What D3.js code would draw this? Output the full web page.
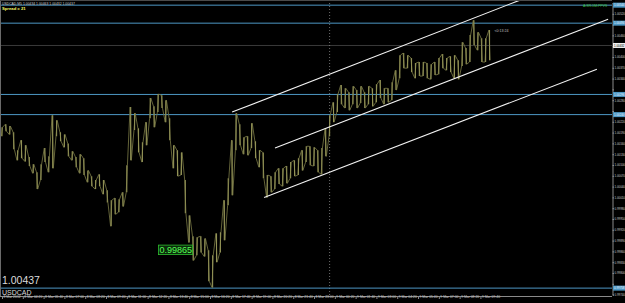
<!DOCTYPE html>
<html><head><meta charset="utf-8">
<script src="https://cdn.jsdelivr.net/npm/d3@7"></script>
<style>html,body{margin:0;padding:0;background:#000;overflow:hidden}svg{display:block}</style>
</head><body><svg id="c" width="625" height="303"></svg>
<script>
// ---- data (USDCAD; one sample every 15 minutes from 8 Mar 03:00) ----
const barStepMin = 15;
const highs = [1.00205,1.00213,1.00208,1.00191,1.00141,1.00169,1.00155,1.00122,1.00102,1.00080,
1.00102,1.00147,1.00124,1.00238,1.00224,1.00191,1.00185,1.00160,1.00138,1.00122,
1.00130,1.00119,1.00085,1.00069,1.00058,1.00074,1.00058,1.00030,1.00002,1.00008,
1.00005,1.00024,1.00099,1.00261,1.00244,1.00202,1.00163,1.00219,1.00286,1.00263,
1.00297,1.00294,1.00280,1.00230,1.00155,1.00141,1.00135,1.00058,0.99960,0.99902,
0.99899,0.99902,0.99896,0.99863,0.99849,0.99910,0.99913,1.00002,1.00063,1.00169,
1.00244,1.00213,1.00177,1.00180,1.00216,1.00166,1.00141,1.00135,1.00072,1.00069,
1.00080,1.00091,1.00091,1.00097,1.00108,1.00113,1.00119,1.00141,1.00152,1.00152,
1.00149,1.00141,1.00147,1.00202,1.00238,1.00274,1.00297,1.00322,1.00313,1.00302,
1.00319,1.00308,1.00319,1.00302,1.00319,1.00313,1.00324,1.00336,1.00313,1.00313,
1.00330,1.00363,1.00405,1.00411,1.00405,1.00397,1.00383,1.00386,1.00386,1.00383,
1.00380,1.00386,1.00397,1.00408,1.00397,1.00402,1.00405,1.00391,1.00441,1.00425,
1.00461,1.00502,1.00469,1.00452,1.00452,1.00475];
const lows = [1.00180,1.00194,1.00185,1.00144,1.00113,1.00119,1.00110,1.00097,1.00077,1.00033,
1.00058,1.00108,1.00080,1.00091,1.00180,1.00166,1.00149,1.00124,1.00113,1.00094,
1.00077,1.00072,1.00052,1.00041,1.00033,1.00041,1.00019,0.99996,0.99930,0.99963,
0.99969,0.99985,1.00024,1.00113,1.00197,1.00135,1.00108,1.00155,1.00230,1.00205,
1.00247,1.00258,1.00219,1.00169,1.00091,1.00069,1.00072,0.99966,0.99885,0.99835,
0.99849,0.99857,0.99846,0.99777,0.99760,0.99830,0.99857,0.99891,0.99988,1.00016,
1.00141,1.00155,1.00130,1.00127,1.00147,1.00119,1.00094,1.00063,1.00010,1.00024,
1.00033,1.00047,1.00041,1.00049,1.00063,1.00069,1.00072,1.00085,1.00108,1.00099,
1.00097,1.00080,1.00074,1.00124,1.00180,1.00219,1.00247,1.00269,1.00258,1.00252,
1.00269,1.00258,1.00272,1.00258,1.00269,1.00263,1.00274,1.00286,1.00269,1.00274,
1.00280,1.00308,1.00341,1.00369,1.00369,1.00358,1.00341,1.00347,1.00347,1.00341,
1.00338,1.00350,1.00352,1.00369,1.00363,1.00358,1.00341,1.00338,1.00375,1.00380,
1.00386,1.00433,1.00419,1.00386,1.00386,1.00391];
const timeLabels = ["8 Mar 2012","8 Mar 04:20","8 Mar 05:40","8 Mar 07:00","8 Mar 08:20","8 Mar 09:40",
"8 Mar 11:00","8 Mar 12:20","8 Mar 13:40","8 Mar 15:00","8 Mar 16:20","8 Mar 17:40","8 Mar 19:00",
"8 Mar 20:20","8 Mar 21:40","8 Mar 23:00","9 Mar 00:20","9 Mar 01:40","9 Mar 03:00","9 Mar 04:20",
"9 Mar 05:40","9 Mar 07:00","9 Mar 08:20","9 Mar 09:40"];
const labelStepMin = 80;
const priceTicks = [1.00550,1.00520,1.00490,1.00460,1.00430,1.00400,1.00370,1.00340,1.00310,1.00280,
1.00250,1.00220,1.00190,1.00160,1.00130,1.00100,1.00070,1.00040,1.00010,0.99980,0.99950,0.99920,
0.99890,0.99860,0.99830,0.99800,0.99770,0.99740];
const levelPrices = [1.00544,1.00494,1.00296,1.00240,0.99758];
const bidPrice = 1.00432;
const separatorMin = 1260;
const trendStartMin = [885,1050,1008];
const trendStartPrice = [1.00247,1.00147,1.00010];
const trendEndMin = [1992,2331,2288];
const trendEndPrice = [1.00558,1.00505,1.00366];
const lowMarkPrice = 0.99865;
const lastPriceText = "1.00437";
const titleText = "USDCAD,M5  1.00434 1.00463 1.00432 1.00437";

// ---- drawing ----
const W = 625, H = 303, plotR = 612, plotB = 296;
const svg = d3.select("#c");
const FONT = "Liberation Sans, Arial, sans-serif";
const AX = 2.9;
svg.append("rect").attr("width",W).attr("height",H).attr("fill","#000");

const x = d3.scaleLinear().domain([0, 2346]).range([2, plotR]);
const y = d3.scaleLinear().domain([0.9974, 1.0055]).range([294.6, 3]);

svg.append("defs").append("clipPath").attr("id","pc")
  .append("rect").attr("x",0).attr("y",0).attr("width",plotR).attr("height",plotB);
const g = svg.append("g").attr("clip-path","url(#pc)");

const blue = "#4d97c4";
const olive = "#929256";

// bid line
g.append("line").attr("x1",0).attr("x2",plotR).attr("y1",y(bidPrice)).attr("y2",y(bidPrice))
  .attr("stroke","#3a3a3a").attr("stroke-width",1);

// period separator
g.append("line").attr("x1",x(separatorMin)).attr("x2",x(separatorMin)).attr("y1",0).attr("y2",plotB)
  .attr("stroke","#8a8a8a").attr("stroke-width",0.8).attr("stroke-dasharray","1,2");

// horizontal levels
g.selectAll("line.lvl").data(levelPrices).join("line").attr("class","lvl")
  .attr("x1",0).attr("x2",plotR).attr("y1",d=>y(d)).attr("y2",d=>y(d))
  .attr("stroke",blue).attr("stroke-width",1);

// bars: vertical high-low strokes joined by a thin zigzag through the bar ranges
const bars = highs.map((h,i)=>({t:i*barStepMin,h,l:lows[i]}));
const zig = [];
bars.forEach((d,i)=>{
  const up = i%2===0;
  zig.push([x(d.t)-0.6, y(up?d.l:d.h)]);
  zig.push([x(d.t)+0.6, y(up?d.h:d.l)]);
});
g.append("path").attr("d", d3.line()(zig)).attr("fill","none")
  .attr("stroke","#6e6e40").attr("stroke-width",0.9);
g.selectAll("line.bar").data(bars).join("line").attr("class","bar")
  .attr("x1",d=>x(d.t)).attr("x2",d=>x(d.t)).attr("y1",d=>y(d.h)).attr("y2",d=>y(d.l))
  .attr("stroke",olive).attr("stroke-width",1.1);

// trend channel
g.selectAll("line.tr").data(trendStartMin).join("line").attr("class","tr")
  .attr("x1",(d,i)=>x(trendStartMin[i])).attr("y1",(d,i)=>y(trendStartPrice[i]))
  .attr("x2",(d,i)=>x(trendEndMin[i])).attr("y2",(d,i)=>y(trendEndPrice[i]))
  .attr("stroke","#f2f2f2").attr("stroke-width",1.1);

// frame
svg.append("line").attr("x1",0).attr("x2",plotR).attr("y1",plotB+0.5).attr("y2",plotB+0.5).attr("stroke","#8a8a8a");
svg.append("line").attr("x1",0.5).attr("x2",0.5).attr("y1",0).attr("y2",plotB).attr("stroke","#6a6a6a");
svg.append("line").attr("x1",0).attr("x2",plotR).attr("y1",0.5).attr("y2",0.5).attr("stroke","#4a4a4a");

// right axis
const tagPrices = levelPrices.concat([bidPrice]);
const ya = svg.append("g").attr("transform",`translate(${plotR+0.5},0)`)
  .call(d3.axisRight(y).tickValues(priceTicks).tickFormat(d3.format(".5f")).tickSize(1.5).tickPadding(0.5));
ya.select(".domain").attr("stroke","#8a8a8a");
ya.selectAll(".tick line").attr("stroke","#8a8a8a");
ya.selectAll("text").attr("fill","#c8c8c8").attr("font-size",AX).attr("font-family",FONT)
  .style("display",d=>tagPrices.some(p=>Math.abs(y(p)-y(d))<5.5) ? "none" : null);

// level price tags on axis
const tags = svg.append("g");
levelPrices.forEach(p=>{
  tags.append("rect").attr("x",plotR+1).attr("y",y(p)-2.5).attr("width",W-plotR-1).attr("height",5).attr("fill",blue);
  tags.append("text").attr("x",plotR+2).attr("y",y(p)+1.1).text(d3.format(".5f")(p))
    .attr("fill","#e8f4ff").attr("font-size",AX).attr("font-family",FONT);
});
tags.append("rect").attr("x",plotR+1).attr("y",y(bidPrice)-2.5).attr("width",W-plotR-1).attr("height",5).attr("fill","#f0f0f0");
tags.append("text").attr("x",plotR+2).attr("y",y(bidPrice)+1.1).text(d3.format(".5f")(bidPrice))
  .attr("fill","#000").attr("font-size",AX).attr("font-family",FONT);

// bottom axis
const labelMins = timeLabels.map((d,i)=>i*labelStepMin);
const xa = svg.append("g").attr("transform",`translate(0,${plotB+0.5})`)
  .call(d3.axisBottom(x).tickValues(labelMins).tickFormat((d,i)=>timeLabels[i]).tickSize(2.5).tickPadding(0));
xa.select(".domain").remove();
xa.selectAll(".tick line").attr("stroke","#8a8a8a");
xa.selectAll("text").attr("fill","#c8c8c8").attr("font-size",3.4).attr("font-family",FONT)
  .attr("text-anchor","start").attr("dx",1).attr("dy",-1.2);

// texts
svg.append("text").attr("x",2).attr("y",4.5).text(titleText)
  .attr("fill","#d0d0d0").attr("font-size",3.4).attr("font-family",FONT);
svg.append("text").attr("x",2).attr("y",9.5).text("Spread = 21")
  .attr("fill","#ffff66").attr("font-size",4.2).attr("font-weight","bold").attr("font-family",FONT);
svg.append("text").attr("x",607).attr("y",6.5).text("A-SR-1M-PPVS").attr("text-anchor","end")
  .attr("fill","#44cc44").attr("font-size",3.4).attr("font-family",FONT);
svg.append("text").attr("x",x(highs.length*barStepMin)+1).attr("y",31.5).text("<0:13:24")
  .attr("fill","#c0c0c0").attr("font-size",3.6).attr("font-family",FONT);
svg.append("text").attr("x",2).attr("y",283.5).text(lastPriceText)
  .attr("fill","#dcdcdc").attr("font-size",10.5).attr("font-family",FONT);
svg.append("text").attr("x",2).attr("y",295).text("USDCAD")
  .attr("fill","#dcdcdc").attr("font-size",7).attr("font-family",FONT);

// low marker label
const ly = y(lowMarkPrice);
svg.append("rect").attr("x",158.5).attr("y",ly-4.5).attr("width",34).attr("height",9.5)
  .attr("fill","#0b2a0b").attr("stroke","#2fbf2f").attr("stroke-width",0.8);
svg.append("text").attr("x",159.5).attr("y",ly+3.3).text("0.99865")
  .attr("fill","#55ff55").attr("font-size",9).attr("font-family",FONT);
</script></body></html>
